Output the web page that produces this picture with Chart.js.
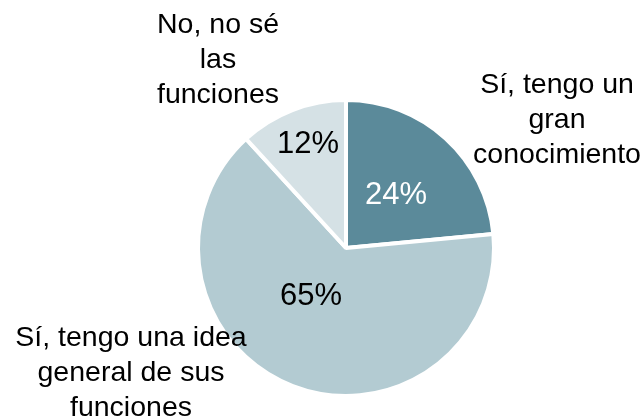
<!DOCTYPE html>
<html lang="es">
<head>
  <meta charset="UTF-8" />
  <title>Conocimiento de funciones</title>
  <script src="https://cdn.jsdelivr.net/npm/chart.js"></script>
  <style>
    html, body {
      margin: 0;
      padding: 0;
      background: #ffffff;
    }
    #wrap {
      width: 644px;
      height: 418px;
    }
  </style>
</head>
<body>
  <div id="wrap">
    <canvas id="pieChart" width="644" height="418"></canvas>
  </div>

  <script>
    // data
    const categories = [
      ['Sí, tengo un', 'gran', 'conocimiento'],
      ['Sí, tengo una idea', 'general de sus', 'funciones'],
      ['No, no sé', 'las', 'funciones']
    ];
    const shares = [23.5, 64.7, 11.8];
    const sliceColors = ['#5b8a9a', '#b3cbd2', '#d5e1e5'];
    const pctColors = ['#ffffff', '#000000', '#000000'];

    // where each text sits, relative to the pie centre
    const pctOffsets = [[50, -44], [-35, 57], [-38, -95]];
    const labelOffsets = [[211, -155], [-215, 98], [-128, -215]];

    const labelPlugin = {
      id: 'sliceLabels',
      afterDatasetsDraw(chart) {
        const ctx = chart.ctx;
        const arcs = chart.getDatasetMeta(0).data;
        ctx.save();
        ctx.textAlign = 'center';
        ctx.textBaseline = 'alphabetic';
        arcs.forEach((arc, i) => {
          const cx = arc.x, cy = arc.y;
          ctx.font = '31px "Liberation Sans", Arial, sans-serif';
          ctx.fillStyle = pctColors[i];
          ctx.fillText(Math.round(shares[i]) + '%', cx + pctOffsets[i][0], cy + pctOffsets[i][1]);

          ctx.font = '28.5px "Liberation Sans", Arial, sans-serif';
          ctx.fillStyle = '#000000';
          categories[i].forEach((line, j) => {
            ctx.fillText(line, cx + labelOffsets[i][0], cy + labelOffsets[i][1] + j * 35);
          });
        });
        ctx.restore();
      }
    };

    new Chart(document.getElementById('pieChart'), {
      type: 'pie',
      data: {
        labels: categories.map(c => c.join(' ')),
        datasets: [{
          data: shares,
          backgroundColor: sliceColors,
          borderColor: '#ffffff',
          borderWidth: 4
        }]
      },
      options: {
        responsive: false,
        animation: false,
        layout: {
          padding: { top: 98, bottom: 20, left: 196, right: 148 }
        },
        plugins: {
          legend: { display: false },
          tooltip: { enabled: false }
        }
      },
      plugins: [labelPlugin]
    });
  </script>
</body>
</html>
